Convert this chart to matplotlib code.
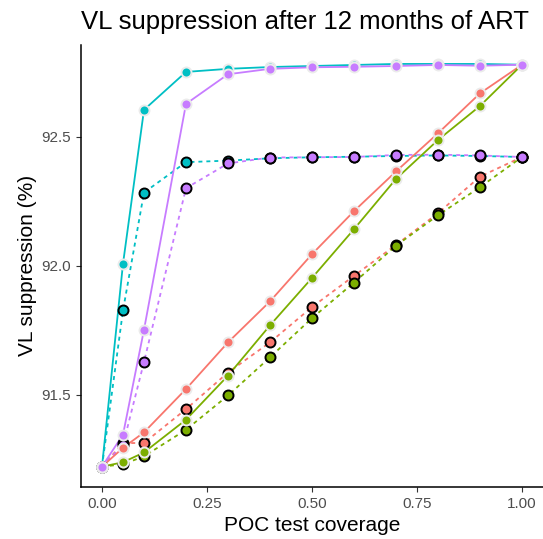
import numpy as np
import matplotlib
matplotlib.use("Agg")
import matplotlib.pyplot as plt

# ── Data ─────────────────────────────────────────────────────────────────────
coverage = [0.0, 0.05, 0.1, 0.2, 0.3, 0.4, 0.5, 0.6, 0.7, 0.8, 0.9, 1.0]

# solid lines (light-edged points)
salmon_solid = [91.221, 91.294, 91.354, 91.522, 91.703, 91.862, 92.045, 92.212,
                92.366, 92.514, 92.669, 92.780]
green_solid = [91.221, 91.238, 91.276, 91.403, 91.574, 91.769, 91.953, 92.142,
               92.337, 92.488, 92.620, 92.780]
cyan_solid = [91.221, 92.008, 92.605, 92.752, 92.764, 92.771, 92.775, 92.779,
              92.783, 92.783, 92.783, 92.780]
purple_solid = [91.221, 91.345, 91.752, 92.628, 92.743, 92.764, 92.770, 92.772,
                92.775, 92.779, 92.776, 92.780]

# dashed lines (black-edged points)
salmon_dash = [91.221, 91.312, 91.313, 91.444, 91.586, 91.703, 91.840, 91.961,
               92.081, 92.204, 92.346, 92.422]
green_dash = [91.221, 91.230, 91.261, 91.364, 91.497, 91.645, 91.797, 91.935,
              92.078, 92.196, 92.305, 92.422]
cyan_dash = [91.221, 91.827, 92.284, 92.402, 92.408, 92.417, 92.421, 92.423,
             92.426, 92.428, 92.426, 92.422]
purple_dash = [91.221, 91.305, 91.627, 92.301, 92.397, 92.420, 92.421, 92.422,
               92.430, 92.431, 92.428, 92.422]

colors = ["#F8766D", "#7CAE00", "#00BFC4", "#C77CFF"]
solid = [salmon_solid, green_solid, cyan_solid, purple_solid]
dashed = [salmon_dash, green_dash, cyan_dash, purple_dash]

plt.rcParams["font.family"] = ["Liberation Sans", "DejaVu Sans"]

fig = plt.figure(figsize=(5.43, 5.39), dpi=100)
ax = fig.add_axes([81 / 543, 1 - 487 / 539, 1 - 81 / 543, (487 - 44.6) / 539])

for c, ys in zip(colors, dashed):
    ax.plot(coverage, ys, color=c, lw=1.3, ls=(0, (2.2, 2.2)), zorder=2)
for c, ys in zip(colors, solid):
    ax.plot(coverage, ys, color=c, lw=1.3, zorder=2)
for c, ys in zip(colors, dashed):
    ax.plot(coverage, ys, ls="none", marker="o", ms=7.2, mfc=c, mec="black",
            mew=1.4, zorder=3)
for c, ys in zip(colors, solid):
    ax.plot(coverage, ys, ls="none", marker="o", ms=7.2, mfc=c, mec="#EBEBEB",
            mew=1.4, zorder=4)

ax.set_xlim(-0.05, 1.05)
ax.set_ylim(91.142, 92.858)
ax.set_xticks([0, 0.25, 0.5, 0.75, 1.0])
ax.set_xticklabels(["0.00", "0.25", "0.50", "0.75", "1.00"])
ax.set_yticks([91.5, 92.0, 92.5])
ax.set_yticklabels(["91.5", "92.0", "92.5"])
ax.tick_params(colors="#333333", labelcolor="#4D4D4D", labelsize=11,
               length=3.5, width=0.8)
for s in ["top", "right"]:
    ax.spines[s].set_visible(False)
for s in ["left", "bottom"]:
    ax.spines[s].set_linewidth(1.1)

ax.set_xlabel("POC test coverage", fontsize=15, labelpad=4)
ax.set_ylabel("VL suppression (%)", fontsize=15, labelpad=3)
ax.set_title("VL suppression after 12 months of ART", fontsize=18.5, pad=11,
             loc="left")

fig.savefig("out.png", dpi=100)
